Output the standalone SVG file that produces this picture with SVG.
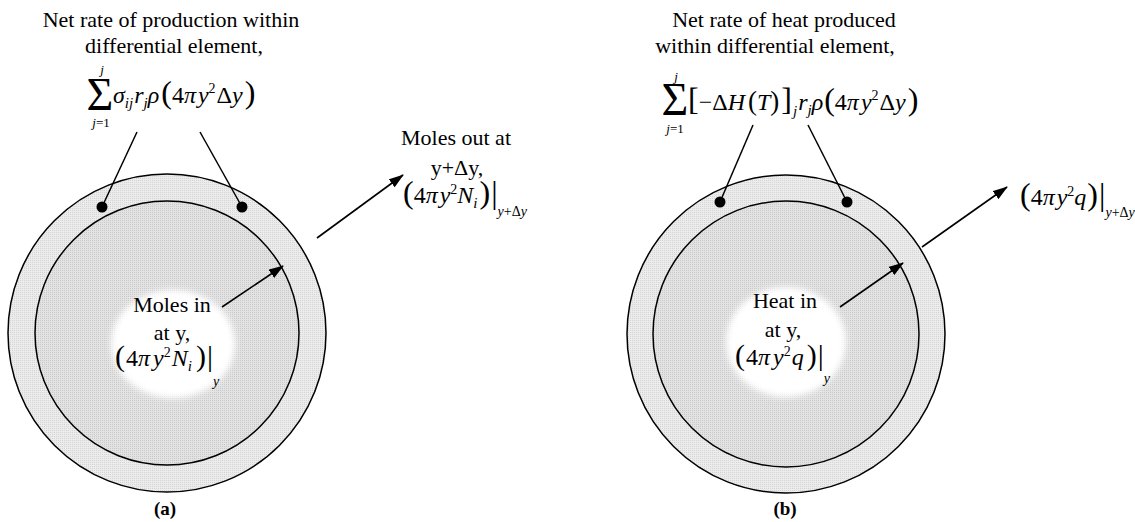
<svg xmlns="http://www.w3.org/2000/svg" width="1135" height="522" viewBox="0 0 1135 522">
<defs>
<style>
.t{font-family:'Liberation Serif','Times New Roman',serif;font-size:22px;fill:#000}
.m{font-family:'Liberation Serif','Times New Roman',serif;font-size:24px;fill:#000}
.i{font-style:italic}
.s{font-size:15px}
.sp{font-size:14px}
.ss{font-size:14px}
.b{font-size:32px}
.bi{font-size:30px}
.mb{font-size:27px}
.big{font-size:46px}
.tiny{font-size:13px}
.lbl{font-family:'Liberation Serif','Times New Roman',serif;font-size:19px;font-weight:bold;fill:#000}
.ring{fill:url(#pr);stroke:#000;stroke-width:1.5}
.core{fill:url(#pc);stroke:#000;stroke-width:1.5}
.ln{stroke:#000;stroke-width:1.5;fill:none}
.ar{stroke:#000;stroke-width:1.6;fill:none;marker-end:url(#ah)}
.dot{fill:#000}
</style>
<pattern id="pr" width="2" height="2" patternUnits="userSpaceOnUse">
<rect width="2" height="2" fill="#ececec"/>
<rect width="1" height="1" fill="#d4d4d4"/>
</pattern>
<pattern id="pc" width="2" height="2" patternUnits="userSpaceOnUse">
<rect width="2" height="2" fill="#e3e3e3"/>
<rect width="1" height="1" fill="#c8c8c8"/>
</pattern>
<marker id="ah" markerWidth="15" markerHeight="10" refX="14" refY="5" orient="auto" markerUnits="userSpaceOnUse">
<path d="M0,0 L15,5 L0,10 Z" fill="#000"/>
</marker>
<filter id="blur" x="-30%" y="-30%" width="160%" height="160%">
<feGaussianBlur stdDeviation="3"/>
</filter>
</defs>

<g id="shell-a">
<circle class="ring" cx="167" cy="333" r="159"/>
<circle class="core" cx="167" cy="333" r="132"/>
<ellipse cx="173" cy="344" rx="62" ry="54" fill="#fff" filter="url(#blur)"/>
</g>
<g id="shell-b">
<circle class="ring" cx="786" cy="334" r="159"/>
<circle class="core" cx="786" cy="334" r="133"/>
<ellipse cx="786" cy="342" rx="60" ry="55" fill="#fff" filter="url(#blur)"/>
</g>

<g id="connectors">
<line class="ln" x1="137" y1="132" x2="102" y2="207"/>
<line class="ln" x1="200" y1="132" x2="242" y2="207"/>
<circle class="dot" cx="102" cy="207" r="5.5"/>
<circle class="dot" cx="242" cy="207" r="5.5"/>
<line class="ar" x1="317" y1="238" x2="403" y2="175"/>
<line class="ar" x1="222" y1="307" x2="283" y2="266"/>
<line class="ln" x1="753" y1="125" x2="720" y2="202"/>
<line class="ln" x1="808" y1="125" x2="847" y2="202"/>
<circle class="dot" cx="720" cy="202" r="5.5"/>
<circle class="dot" cx="847" cy="202" r="5.5"/>
<line class="ar" x1="922" y1="247" x2="1007" y2="187"/>
<line class="ar" x1="840" y1="307" x2="903" y2="263"/>
</g>

<g id="label-production-a">
<text class="t" x="171" y="27" text-anchor="middle">Net rate of production within</text>
<text class="t" x="174" y="53" text-anchor="middle">differential element,</text>
<text class="m big" x="100" y="110" text-anchor="middle">Σ</text>
<text class="m i tiny" x="102" y="74" text-anchor="middle">j</text>
<text class="m tiny" x="101" y="127" text-anchor="middle"><tspan class="i">j</tspan>=1</text>
<text class="m" x="113" y="103"><tspan class="i">σ</tspan><tspan class="i s" dy="5">ij</tspan><tspan class="i" dy="-5" dx="1">r</tspan><tspan class="i s" dy="5">j</tspan><tspan class="i" dy="-5">ρ</tspan><tspan class="b" dx="2">(</tspan>4<tspan class="i">π</tspan><tspan class="i" dx="2">y</tspan><tspan class="sp" dy="-10">2</tspan><tspan dy="10" dx="1">Δ</tspan><tspan class="i">y</tspan><tspan class="b" dx="2">)</tspan></text>
</g>

<g id="label-out-a">
<text class="t" x="456" y="145" text-anchor="middle">Moles out at</text>
<text class="t" x="457" y="175" text-anchor="middle">y+Δy,</text>
<text class="m" x="403" y="203"><tspan class="b">(</tspan>4<tspan class="i">π</tspan><tspan class="i" dx="2">y</tspan><tspan class="sp" dy="-9">2</tspan><tspan class="i" dy="9">N</tspan><tspan class="i s" dy="5">i</tspan><tspan class="b" dy="-5" dx="2">)</tspan><tspan class="b" dx="1">|</tspan><tspan class="ss" dy="13"><tspan class="i">y</tspan>+Δ<tspan class="i">y</tspan></tspan></text>
</g>

<g id="label-in-a">
<text class="t" x="172" y="312" text-anchor="middle">Moles in</text>
<text class="t" x="172" y="340" text-anchor="middle">at y,</text>
<text class="m" x="115" y="366"><tspan class="bi">(</tspan><tspan dx="1">4</tspan><tspan class="i">π</tspan><tspan class="i" dx="3">y</tspan><tspan class="sp" dy="-9">2</tspan><tspan class="i" dy="9" dx="1">N</tspan><tspan class="i s" dy="5">i</tspan><tspan class="bi" dy="-5" dx="4">)</tspan><tspan class="bi" dx="1">|</tspan><tspan class="i ss" dy="20">y</tspan></text>
</g>

<g id="label-heat-b">
<text class="t" x="784" y="27" text-anchor="middle">Net rate of heat produced</text>
<text class="t" x="775" y="53" text-anchor="middle">within differential element,</text>
<text class="m big" x="675" y="115" text-anchor="middle">Σ</text>
<text class="m i tiny" x="676" y="81" text-anchor="middle">j</text>
<text class="m tiny" x="675" y="133" text-anchor="middle"><tspan class="i">j</tspan>=1</text>
<text class="m" x="688" y="110"><tspan class="b">[</tspan>−Δ<tspan class="i">H</tspan><tspan class="mb" dx="3">(</tspan><tspan class="i">T</tspan><tspan class="mb">)</tspan><tspan class="b" dx="2">]</tspan><tspan class="i s" dy="6" dx="1">j</tspan><tspan class="i" dy="-6" dx="1">r</tspan><tspan class="i s" dy="5">j</tspan><tspan class="i" dy="-5">ρ</tspan><tspan class="b" dx="1">(</tspan>4<tspan class="i">π</tspan><tspan class="i" dx="2">y</tspan><tspan class="sp" dy="-10">2</tspan><tspan dy="10" dx="1">Δ</tspan><tspan class="i">y</tspan><tspan class="b" dx="2">)</tspan></text>
</g>

<g id="label-out-b">
<text class="m" x="1020" y="205"><tspan class="b">(</tspan>4<tspan class="i">π</tspan><tspan class="i" dx="2">y</tspan><tspan class="sp" dy="-9">2</tspan><tspan class="i" dy="9">q</tspan><tspan class="b" dx="1">)</tspan><tspan class="b" dx="1">|</tspan><tspan class="ss" dy="12"><tspan class="i">y</tspan>+Δ<tspan class="i">y</tspan></tspan></text>
</g>

<g id="label-in-b">
<text class="t" x="785" y="308" text-anchor="middle">Heat in</text>
<text class="t" x="783" y="337" text-anchor="middle">at y,</text>
<text class="m" x="735" y="365"><tspan class="bi">(</tspan><tspan dx="1">4</tspan><tspan class="i">π</tspan><tspan class="i" dx="3">y</tspan><tspan class="sp" dy="-9">2</tspan><tspan class="i" dy="9" dx="1">q</tspan><tspan class="bi" dx="3">)</tspan><tspan class="bi" dx="1">|</tspan><tspan class="i ss" dy="18">y</tspan></text>
</g>

<g id="caption-a"><text class="lbl" x="165" y="515" text-anchor="middle">(a)</text></g>
<g id="caption-b"><text class="lbl" x="785" y="515" text-anchor="middle">(b)</text></g>
</svg>
